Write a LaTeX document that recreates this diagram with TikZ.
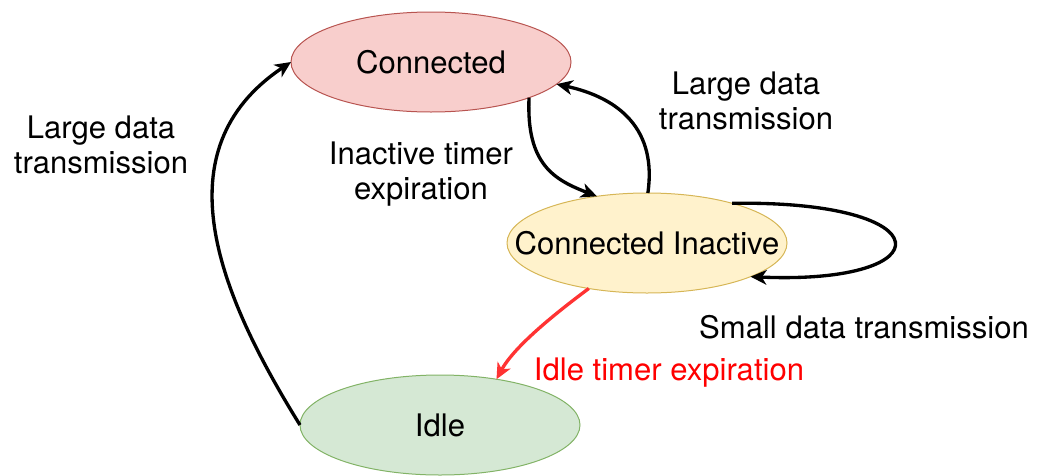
\documentclass[tikz,border=0pt]{standalone}
\usepackage{fontspec}
\setmainfont{TeX Gyre Heros}
\usetikzlibrary{shapes.geometric,arrows.meta}

\definecolor{conFill}{HTML}{F8CECC}
\definecolor{conLine}{HTML}{B85450}
\definecolor{inaFill}{HTML}{FFF2CC}
\definecolor{inaLine}{HTML}{D6B656}
\definecolor{idleFill}{HTML}{D5E8D4}
\definecolor{idleLine}{HTML}{82B366}
\definecolor{idleRed}{HTML}{FF3333}

\begin{document}
\begin{tikzpicture}[x=0.75pt,y=-0.75pt,
	phase/.style={ellipse,line width=0.75pt,minimum width=210pt,minimum height=75pt,
		inner sep=0pt,outer sep=0pt,font=\fontsize{23.3}{27}\selectfont},
	lbl/.style={align=center,font=\fontsize{23.3}{26.5}\selectfont},
	trans/.style={line width=2.5pt,-{Stealth[length=12pt,width=11pt,inset=3.5pt]}}]
	\useasboundingbox (0,0) rectangle (1042,475);
	% the three states
	\node[phase,draw=conLine,fill=conFill] (con) at (431,62) {\makebox[0pt]{Connected}};
	\node[phase,draw=inaLine,fill=inaFill] (ina) at (647,243) {\makebox[0pt]{Connected Inactive}};
	\node[phase,draw=idleLine,fill=idleFill] (idle) at (440,425) {\makebox[0pt]{Idle}};
	% transitions
	\draw[trans] (idle.west) .. controls (218,293) and (160,150) .. (con.west);
	\draw[trans] (con.-20) .. controls (526,165) and (555,180) .. (ina.137);
	\draw[trans] (ina.89) .. controls (657,130) and (620,98) .. (con.-10);
	\draw[trans] (ina.25) .. controls (945,200) and (945,285) .. (ina.-18);
	\draw[trans,idleRed] (ina.-142) .. controls (560,310) and (515,345) .. (idle.39);
	% labels
	\node[lbl] (lLeft) at (101,145) {Large data\\transmission};
	\node[lbl] (lTimer) at (421,174) {Inactive timer\\expiration};
	\node[lbl] (lRight) at (746,101) {Large data\\transmission};
	\node[lbl] (lSmall) at (864,327) {Small data transmission};
	\node[lbl,text=red] (lIdle) at (669,373) {Idle timer expiration};
\end{tikzpicture}
\end{document}
